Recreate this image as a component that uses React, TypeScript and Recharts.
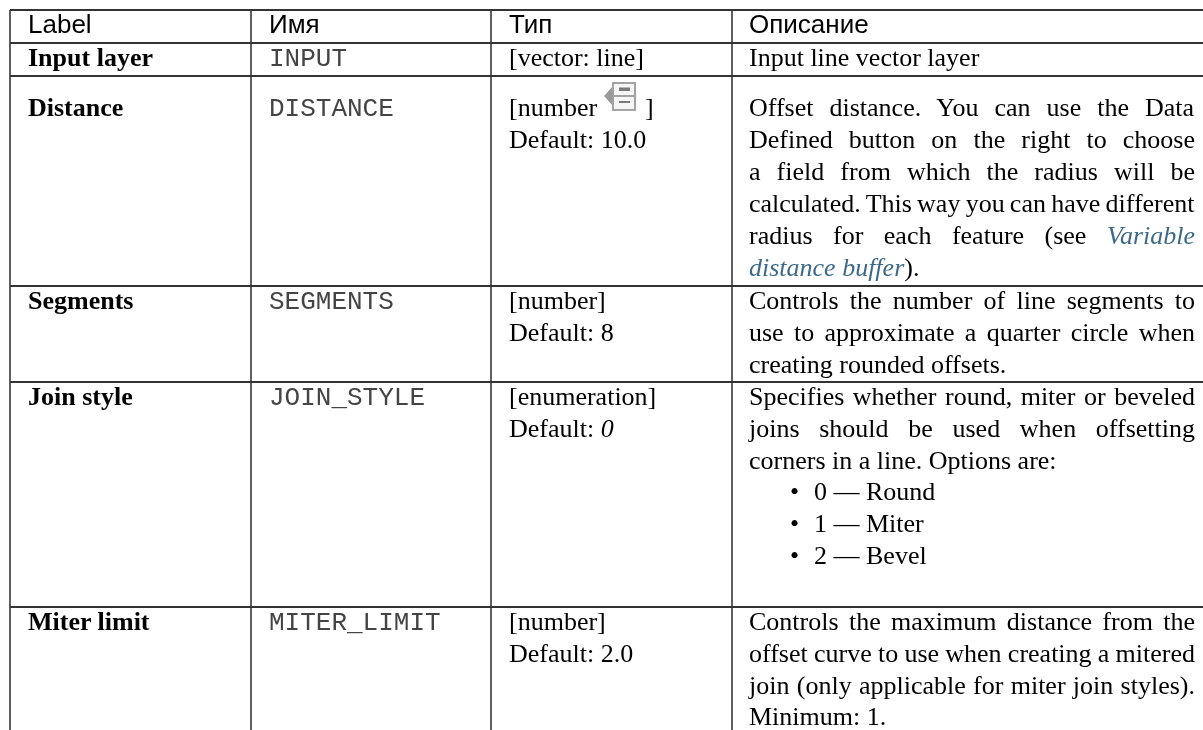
import React from "react";
import { ComposedChart, XAxis, YAxis, Scatter, ReferenceLine } from "recharts";

const WIDTH = 1203;
const HEIGHT = 730;

// Table rules, in axis units
const columnEdges = [10, 251, 491, 732];
const rowEdges = [10, 43, 76, 286, 382, 607];
const textColumns = [28, 269, 509, 749];
const bulletColumn = 790;
const bulletTextColumn = 814;
const justifiedRight = 1195;

const headers = ["Label", "Имя", "Тип", "Описание"];
const headerBaseline = [33];

const labelNames = ["Input layer", "Distance", "Segments", "Join style", "Miter limit"];
const labelBaselines = [66, 116, 309, 405, 630];

const paramNames = ["INPUT", "DISTANCE", "SEGMENTS", "JOIN_STYLE", "MITER_LIMIT"];

const typeLines = [
  "[vector: line]",
  "[number",
  "Default: 10.0",
  "[number]",
  "Default: 8",
  "[enumeration]",
  "Default: |0",
  "[number]",
  "Default: 2.0",
];
const typeBaselines = [66, 116, 148, 309, 341, 405, 437, 630, 662];

const closingBracket = "]";
const closingBracketAt = [645, 116];
const iconAt = [604, 82];

// "~" prefix marks a justified line; "|" toggles an italic run; "@" toggles a link run
const descriptionLines = [
  "Input line vector layer",
  "~Offset distance. You can use the Data",
  "~Defined button on the right to choose",
  "~a field from which the radius will be",
  "~calculated. This way you can have different",
  "~radius for each feature (see @Variable",
  "@distance buffer@).",
  "~Controls the number of line segments to",
  "~use to approximate a quarter circle when",
  "creating rounded offsets.",
  "~Specifies whether round, miter or beveled",
  "~joins should be used when offsetting",
  "corners in a line. Options are:",
  "~Controls the maximum distance from the",
  "~offset curve to use when creating a mitered",
  "~join (only applicable for miter join styles).",
  "Minimum: 1.",
];
const descriptionBaselines = [66, 116, 148, 180, 212, 244, 276, 309, 341, 373, 405, 437, 469, 630, 662, 694, 725];

const optionLines = ["0 — Round", "1 — Miter", "2 — Bevel"];
const optionBaselines = [500, 532, 564];

const SERIF = "'Liberation Serif'";
const SANS = "'Liberation Sans'";
const MONO = "'Liberation Mono'";
const FONT_SIZE = 26;
const LINK = "#3c6a8a";
const H_RULE = "#333333";
const V_RULE = "#5f5f5f";

const ctx = typeof document !== "undefined" ? document.createElement("canvas").getContext("2d") : null;

type Run = { text: string; italic?: boolean; link?: boolean };

function parseRuns(raw: string): Run[] {
  const runs: Run[] = [];
  raw.split("@").forEach((part, i) => {
    if (i % 2 === 1) runs.push({ text: part, italic: true, link: true });
    else {
      part.split("|").forEach((p, j) => {
        if (p) runs.push({ text: p, italic: j % 2 === 1 });
      });
    }
  });
  return runs.filter((r) => r.text.length > 0);
}

function measureRuns(runs: Run[]): number {
  if (!ctx) return 0;
  return runs.reduce((sum, r) => {
    ctx.font = `${r.italic ? "italic " : ""}${FONT_SIZE}px ${SERIF}`;
    return sum + ctx.measureText(r.text).width;
  }, 0);
}

const SerifLine = (props: any) => {
  const { cx, cy, payload } = props;
  const raw: string = payload.text;
  const justified = raw.startsWith("~");
  const runs = parseRuns(justified ? raw.slice(1) : raw);
  let wordSpacing = 0;
  if (justified) {
    const gaps = runs.reduce((n, r) => n + (r.text.match(/ /g) || []).length, 0);
    wordSpacing = (justifiedRight - payload.x - measureRuns(runs)) / gaps;
  }
  return (
    <text x={cx} y={cy} fontFamily={SERIF} fontSize={FONT_SIZE} fill="#000" style={{ wordSpacing, whiteSpace: "pre" }}>
      {runs.map((r, i) => (
        <tspan key={i} fontStyle={r.italic ? "italic" : "normal"} fill={r.link ? LINK : "#000"}>
          {r.text}
        </tspan>
      ))}
    </text>
  );
};

const plainLine = (fontFamily: string, fontWeight: string, fill: string) => (props: any) => (
  <text x={props.cx} y={props.cy} fontFamily={fontFamily} fontWeight={fontWeight} fontSize={FONT_SIZE} fill={fill}>
    {props.payload.text}
  </text>
);

const Bullet = (props: any) => (
  <text x={props.cx} y={props.cy} fontFamily={SERIF} fontSize={FONT_SIZE} fill="#000">
    •
  </text>
);

const DataDefinedIcon = (props: any) => {
  const { cx, cy } = props;
  return (
    <g transform={`translate(${cx},${cy})`}>
      <path d="M0 14 L9 4 L9 24 Z" fill="#9a9a9a" />
      <rect x={9} y={1} width={22} height={27} fill="#f6f6f6" stroke="#a3a3a3" strokeWidth={2} />
      <line x1={9} x2={31} y1={14} y2={14} stroke="#a3a3a3" strokeWidth={2} />
      <rect x={15} y={5.5} width={11} height={3.5} fill="#7a7a7a" />
      <rect x={15} y={19} width={11} height={2} fill="#7a7a7a" />
    </g>
  );
};

const headerData = headers.map((text, i) => ({ x: textColumns[i], y: headerBaseline[0], text }));
const labelData = labelNames.map((text, i) => ({ x: textColumns[0], y: labelBaselines[i], text }));
const paramData = paramNames.map((text, i) => ({ x: textColumns[1], y: labelBaselines[i], text }));
const typeData = typeLines.map((text, i) => ({ x: textColumns[2], y: typeBaselines[i], text }));
const bracketData = [{ x: closingBracketAt[0], y: closingBracketAt[1], text: closingBracket }];
const descData = descriptionLines.map((text, i) => ({ x: textColumns[3], y: descriptionBaselines[i], text }));
const optionData = optionLines.map((text, i) => ({ x: bulletTextColumn, y: optionBaselines[i], text }));
const bulletData = optionBaselines.map((y) => ({ x: bulletColumn, y }));
const iconData = [{ x: iconAt[0], y: iconAt[1] }];

export default function App() {
  return (
    <div style={{ position: "absolute", left: 0, top: 0, width: WIDTH, height: HEIGHT, background: "#fff", filter: "blur(0.4px)" }}>
      <ComposedChart width={WIDTH} height={HEIGHT} margin={{ top: 0, right: 0, bottom: 0, left: 0 }} data={[]}>
        <XAxis type="number" dataKey="x" domain={[0, WIDTH]} hide allowDataOverflow />
        <YAxis type="number" dataKey="y" domain={[0, HEIGHT]} reversed hide allowDataOverflow />
        {columnEdges.map((x) => (
          <ReferenceLine
            key={`v${x}`}
            segment={[{ x, y: rowEdges[0] }, { x, y: HEIGHT }]}
            stroke={V_RULE}
            strokeWidth={2}
          />
        ))}
        {rowEdges.map((y) => (
          <ReferenceLine
            key={`h${y}`}
            segment={[{ x: columnEdges[0], y }, { x: WIDTH, y }]}
            stroke={H_RULE}
            strokeWidth={2}
          />
        ))}
        <Scatter name="headers" data={headerData} isAnimationActive={false} shape={plainLine(SANS, "normal", "#000")} />
        <Scatter name="labels" data={labelData} isAnimationActive={false} shape={plainLine(SERIF, "bold", "#000")} />
        <Scatter name="params" data={paramData} isAnimationActive={false} shape={plainLine(MONO, "normal", "#444")} />
        <Scatter name="types" data={typeData} isAnimationActive={false} shape={SerifLine} />
        <Scatter name="bracket" data={bracketData} isAnimationActive={false} shape={SerifLine} />
        <Scatter name="icon" data={iconData} isAnimationActive={false} shape={DataDefinedIcon} />
        <Scatter name="descriptions" data={descData} isAnimationActive={false} shape={SerifLine} />
        <Scatter name="bullets" data={bulletData} isAnimationActive={false} shape={Bullet} />
        <Scatter name="options" data={optionData} isAnimationActive={false} shape={SerifLine} />
      </ComposedChart>
    </div>
  );
}
